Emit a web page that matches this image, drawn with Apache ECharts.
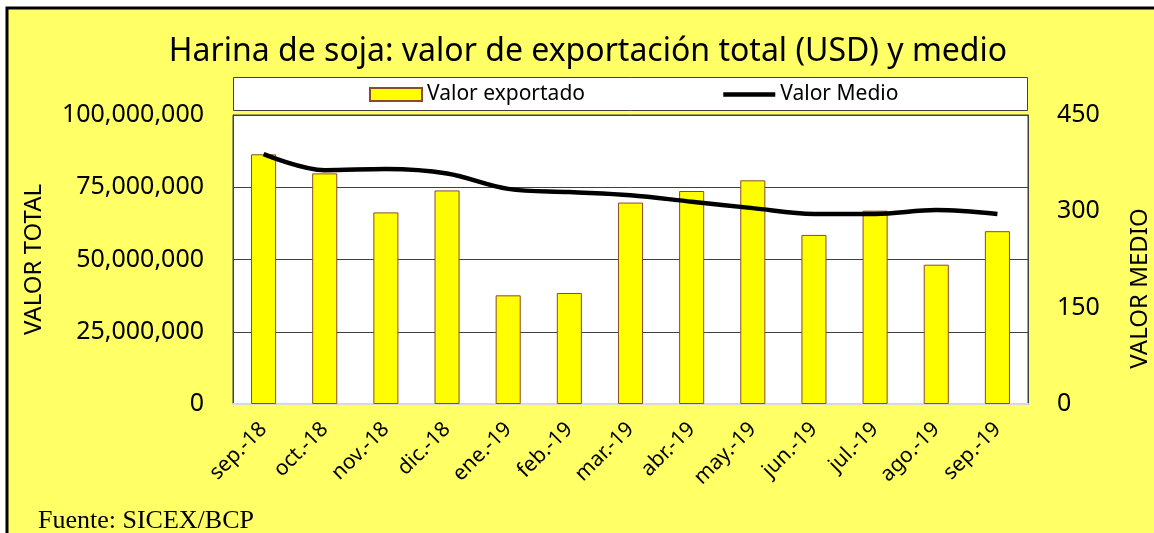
<!DOCTYPE html>
<html>
<head>
<meta charset="utf-8">
<script src="https://cdn.jsdelivr.net/npm/echarts@6/dist/echarts.min.js"></script>
<style>
  html, body { margin: 0; padding: 0; background: #fff; }
  #main { width: 1154px; height: 533px; }
</style>
</head>
<body>
<div id="main"></div>
<script>
  // meses
  const categories = ["sep.-18", "oct.-18", "nov.-18", "dic.-18", "ene.-19", "feb.-19", "mar.-19",
    "abr.-19", "may.-19", "jun.-19", "jul.-19", "ago.-19", "sep.-19"];
  // valor exportado (USD)
  const valorExportado = [86400000, 79800000, 66300000, 73900000, 37600000, 38400000, 69700000,
    73700000, 77400000, 58500000, 66900000, 48200000, 59800000];
  // valor medio (USD/t)
  const valorMedio = [389, 364, 366, 359, 335, 330, 325, 315, 305, 296, 296, 302, 296];

  const font = "Noto Sans";
  const myChart = echarts.init(document.getElementById("main"));
  const option = {
    backgroundColor: "#fff",
    animation: false,
    graphic: [
      // fondo amarillo con borde
      { type: "rect", shape: { x: 7, y: 8, width: 1160, height: 540 }, z: -10,
        style: { fill: "#FFFF66", stroke: "#000", lineWidth: 3 } },
      // caja de la leyenda
      { type: "rect", shape: { x: 233.5, y: 77.5, width: 794, height: 33 }, z: -5,
        style: { fill: "#fff", stroke: "#404040", lineWidth: 1 } },
      { type: "text", left: 38, top: 508, z: 10,
        style: { text: "Fuente: SICEX/BCP", font: "26px 'Liberation Serif'", fill: "#000" } },
    ],
    title: {
      text: "Harina de soja: valor de exportación total (USD) y medio",
      left: 583,
      textAlign: "center",
      top: 31,
      textStyle: { fontFamily: font, fontSize: 32, fontWeight: "normal", color: "#000" },
    },
    legend: {
      left: 369,
      top: 84,
      padding: 0,
      itemWidth: 52,
      itemHeight: 13,
      itemGap: 136,
      textStyle: { fontFamily: font, fontSize: 21, color: "#000" },
      data: [
        { name: "Valor exportado", icon: "rect" },
        { name: "Valor Medio", itemStyle: { opacity: 0 }, lineStyle: { width: 4.5, color: "#000" } },
      ],
    },
    grid: {
      left: 233,
      right: 126,
      top: 115,
      height: 289,
      outerBoundsMode: "none",
      show: true,
      backgroundColor: "#fff",
      borderColor: "#404040",
      borderWidth: 1,
    },
    xAxis: {
      type: "category",
      data: categories,
      axisLine: { lineStyle: { color: "#D9D9D9", width: 2 } },
      axisTick: { show: false },
      axisLabel: {
        interval: 0,
        rotate: 45,
        margin: 22,
        fontFamily: font,
        fontSize: 21,
        color: "#000",
      },
    },
    yAxis: [
      {
        type: "value",
        min: 0,
        max: 100000000,
        interval: 25000000,
        name: "VALOR TOTAL",
        nameLocation: "middle",
        nameGap: 187,
        nameRotate: 90,
        nameTextStyle: { fontFamily: font, fontSize: 24, color: "#000" },
        axisLine: { show: true, lineStyle: { color: "#404040" } },
        axisTick: { show: false },
        axisLabel: {
          margin: 29,
          fontFamily: font,
          fontSize: 25,
          color: "#000",
          formatter: (v) => v.toLocaleString("en-US"),
        },
        splitLine: { lineStyle: { color: "#404040", width: 1 } },
      },
      {
        type: "value",
        min: 0,
        max: 450,
        interval: 150,
        name: "VALOR MEDIO",
        nameLocation: "middle",
        nameGap: 100,
        nameRotate: 90,
        nameTextStyle: { fontFamily: font, fontSize: 24, color: "#000", padding: [0, 58, 0, 0] },
        axisLine: { show: true, lineStyle: { color: "#404040" } },
        axisTick: { show: false },
        axisLabel: { margin: 29, fontFamily: font, fontSize: 25, color: "#000" },
        splitLine: { show: false },
      },
    ],
    series: [
      {
        name: "Valor exportado",
        type: "bar",
        data: valorExportado,
        barWidth: "41%",
        itemStyle: { color: "#FFFF00", borderColor: "#8B4A2B", borderWidth: 1 },
      },
      {
        name: "Valor Medio",
        type: "line",
        yAxisIndex: 1,
        data: valorMedio,
        smooth: 0.35,
        symbol: "none",
        lineStyle: { color: "#000", width: 4.5 },
        itemStyle: { color: "#000" },
      },
    ],
  };
  myChart.setOption(option);
</script>
</body>
</html>
